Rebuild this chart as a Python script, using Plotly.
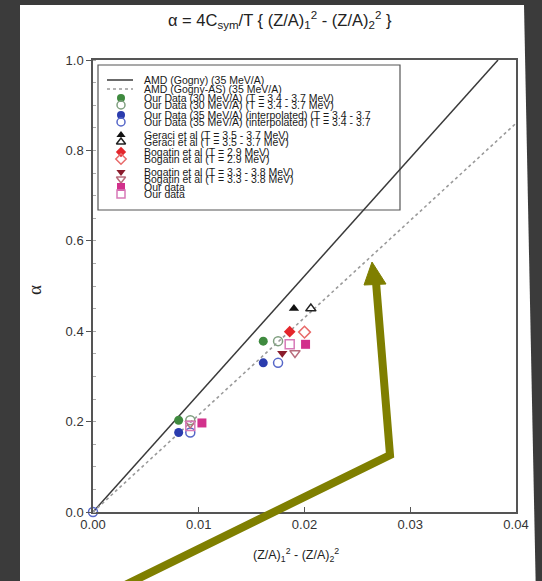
import plotly.graph_objects as go

# ---------------- data ----------------
line_gogny_x = [0.0, 0.0383]
line_gogny_y = [0.0, 1.0]
line_gognyas_x = [0.0, 0.04]
line_gognyas_y = [0.0, 0.86]

green_filled_x = [0.0081, 0.0161]
green_filled_y = [0.203, 0.378]
green_open_x = [0.0092, 0.0175]
green_open_y = [0.203, 0.378]
blue_filled_x = [0.0081, 0.0161]
blue_filled_y = [0.176, 0.330]
blue_open_x = [0.0, 0.0092, 0.0175]
blue_open_y = [0.0, 0.176, 0.330]
geraci_filled_x = [0.0190]
geraci_filled_y = [0.450]
geraci_open_x = [0.0206]
geraci_open_y = [0.450]
bog29_filled_x = [0.0186]
bog29_filled_y = [0.399]
bog29_open_x = [0.0200]
bog29_open_y = [0.398]
bog33_filled_x = [0.0179]
bog33_filled_y = [0.351]
bog33_open_x = [0.0191, 0.0092]
bog33_open_y = [0.352, 0.196]
our_sq_filled_x = [0.0201, 0.0103]
our_sq_filled_y = [0.371, 0.197]
our_sq_open_x = [0.0186, 0.0092]
our_sq_open_y = [0.371, 0.190]

x_ticks = [0.0, 0.01, 0.02, 0.03, 0.04]
x_tick_labels = ["0.00", "0.01", "0.02", "0.03", "0.04"]
y_ticks = [0.0, 0.2, 0.4, 0.6, 0.8, 1.0]
y_tick_labels = ["0.0", "0.2", "0.4", "0.6", "0.8", "1.0"]

legend_labels = [
    "AMD (Gogny) (35 MeV/A)",
    "AMD (Gogny-AS) (35 MeV/A)",
    "Our Data (30 MeV/A) (T = 3.4 - 3.7 MeV)",
    "Our Data (30 MeV/A) (T = 3.4 - 3.7 MeV)",
    "Our Data (35 MeV/A) (interpolated) (T = 3.4 - 3.7",
    "Our Data (35 MeV/A) (interpolated) (T = 3.4 - 3.7",
    "Geraci et al (T = 3.5 - 3.7 MeV)",
    "Geraci et al (T = 3.5 - 3.7 MeV)",
    "Bogatin et al (T = 2.9 MeV)",
    "Bogatin et al (T = 2.9 MeV)",
    "Bogatin et al (T = 3.3 - 3.8 MeV)",
    "Bogatin et al (T = 3.3 - 3.8 MeV)",
    "Our data",
    "Our data",
]

title_text = ("α = 4C<sub>sym</sub>/T { (Z/A)<sub>1</sub><sup>2</sup> - "
              "(Z/A)<sub>2</sub><sup>2</sup> }")
x_title = "(Z/A)<sub>1</sub><sup>2</sup> - (Z/A)<sub>2</sub><sup>2</sup>"
y_title = "α"

# ---------------- layout geometry (pixels) ----------------
W, H = 542, 581
L, R, T, B = 93, 516, 60, 512


def px(x):
    return (x - L) / (R - L)


def py(y):
    return (B - y) / (B - T)


# marker styles: (symbol, color, filled)
styles = [
    ("circle", "#3f8a3f", True),
    ("circle-open", "#7f9f7f", False),
    ("circle", "#2b3cae", True),
    ("circle-open", "#5667c8", False),
    ("triangle-up", "#111111", True),
    ("triangle-up-open", "#222222", False),
    ("diamond", "#e4262c", True),
    ("diamond-open", "#e86a6a", False),
    ("triangle-down", "#8a1c2c", True),
    ("triangle-down-open", "#b86c7c", False),
    ("square", "#d2318c", True),
    ("square-open", "#d77ab8", False),
]

series = [
    (green_filled_x, green_filled_y),
    (green_open_x, green_open_y),
    (blue_filled_x, blue_filled_y),
    (blue_open_x, blue_open_y),
    (geraci_filled_x, geraci_filled_y),
    (geraci_open_x, geraci_open_y),
    (bog29_filled_x, bog29_filled_y),
    (bog29_open_x, bog29_open_y),
    (bog33_filled_x, bog33_filled_y),
    (bog33_open_x, bog33_open_y),
    (our_sq_filled_x, our_sq_filled_y),
    (our_sq_open_x, our_sq_open_y),
]

fig = go.Figure()

fig.add_trace(go.Scatter(x=line_gogny_x, y=line_gogny_y, mode="lines",
                         line=dict(color="#3a3a3a", width=1.5), showlegend=False))
fig.add_trace(go.Scatter(x=line_gognyas_x, y=line_gognyas_y, mode="lines",
                         line=dict(color="#9a9a9a", width=1.6, dash="dot"), showlegend=False))

for (sx, sy), (sym, col, filled) in zip(series, styles):
    fig.add_trace(go.Scatter(
        x=sx, y=sy, mode="markers", showlegend=False, cliponaxis=False,
        marker=dict(symbol=sym, size=9, color=col,
                    line=dict(color=col, width=1.5 if not filled else 0))))

# ---------------- hand-drawn legend (pixel axes overlay) ----------------
leg_y = [80, 89, 98, 105, 115, 122, 135, 142, 152, 159, 172, 179, 187, 194]
fig.add_trace(go.Scatter(x=[107, 133], y=[leg_y[0]] * 2, mode="lines", xaxis="x2", yaxis="y2",
                         line=dict(color="#3a3a3a", width=1.5), showlegend=False))
fig.add_trace(go.Scatter(x=[107, 133], y=[leg_y[1]] * 2, mode="lines", xaxis="x2", yaxis="y2",
                         line=dict(color="#9a9a9a", width=1.4, dash="dot"), showlegend=False))
for i, (sym, col, filled) in enumerate(styles):
    fig.add_trace(go.Scatter(
        x=[121], y=[leg_y[i + 2]], mode="markers", xaxis="x2", yaxis="y2",
        showlegend=False, cliponaxis=False,
        marker=dict(symbol=sym, size=8, color=col,
                    line=dict(color=col, width=1.5 if not filled else 0))))

annotations = []
for lab, yy in zip(legend_labels, leg_y):
    annotations.append(dict(
        x=142, y=yy, xref="x2", yref="y2", text=lab, showarrow=False,
        xanchor="left", yanchor="middle",
        font=dict(family="Liberation Sans, Arial", size=10.5, color="#1a1a1a")))

annotations.append(dict(x=px(280), y=py(20), xref="paper", yref="paper", text=title_text,
                        showarrow=False, xanchor="center", yanchor="middle",
                        font=dict(family="Liberation Sans, Arial", size=16.5, color="#222")))
annotations.append(dict(x=px(296), y=py(555), xref="paper", yref="paper", text=x_title,
                        showarrow=False, xanchor="center", yanchor="middle",
                        font=dict(family="Liberation Sans, Arial", size=12.5, color="#222")))
annotations.append(dict(x=px(34), y=py(290), xref="paper", yref="paper", text=y_title,
                        showarrow=False, xanchor="center", yanchor="middle", textangle=-90,
                        font=dict(family="Liberation Serif, Times New Roman", size=19, color="#222")))

shapes = [
    # white page on dark background (slightly skewed scan)
    dict(type="path", xref="paper", yref="paper",
         path=(f"M {px(20)},{py(5)} L {px(524)},{py(5)} L {px(536)},{py(600)} "
               f"L {px(20)},{py(600)} Z"),
         fillcolor="white", line=dict(width=0), layer="below"),
    # legend box
    dict(type="rect", xref="x2", yref="y2", x0=98, x1=400, y0=65, y1=210,
         fillcolor="white", line=dict(color="#555", width=1.2), layer="below"),
    # olive arrow
    dict(type="path", xref="paper", yref="paper",
         path=f"M {px(115)},{py(590)} L {px(390)},{py(455)} L {px(376)},{py(282)}",
         line=dict(color="#7f7f00", width=8), layer="above"),
    dict(type="path", xref="paper", yref="paper",
         path=f"M {px(372)},{py(262)} L {px(364)},{py(285)} L {px(386)},{py(284)} Z",
         fillcolor="#7f7f00", line=dict(color="#7f7f00", width=1), layer="above"),
]

fig.update_layout(
    width=W, height=H,
    margin=dict(l=L, r=W - R, t=T, b=H - B),
    paper_bgcolor="#3b3b3b", plot_bgcolor="white",
    showlegend=False,
    font=dict(family="Liberation Sans, Arial", size=12, color="#333"),
    xaxis=dict(range=[0, 0.04], tickvals=x_ticks, ticktext=x_tick_labels,
               showgrid=False, zeroline=False, showline=True, linecolor="#555", linewidth=1.5,
               mirror=True, ticks="inside", ticklen=5, tickcolor="#555",
               tickfont=dict(size=13, color="#333")),
    yaxis=dict(range=[0, 1.0], tickvals=y_ticks, ticktext=y_tick_labels,
               showgrid=False, zeroline=False, showline=True, linecolor="#555", linewidth=1.5,
               mirror=True, ticks="outside", ticklen=5, tickcolor="#555",
               tickfont=dict(size=13, color="#333"),
               minor=dict(dtick=0.05, ticks="inside", ticklen=3, tickcolor="#aaa")),
    xaxis2=dict(range=[L, R], overlaying="x", visible=False, domain=[0, 1]),
    yaxis2=dict(range=[B, T], overlaying="y", visible=False, domain=[0, 1]),
    annotations=annotations,
    shapes=shapes,
)

fig.write_html("out.html")
